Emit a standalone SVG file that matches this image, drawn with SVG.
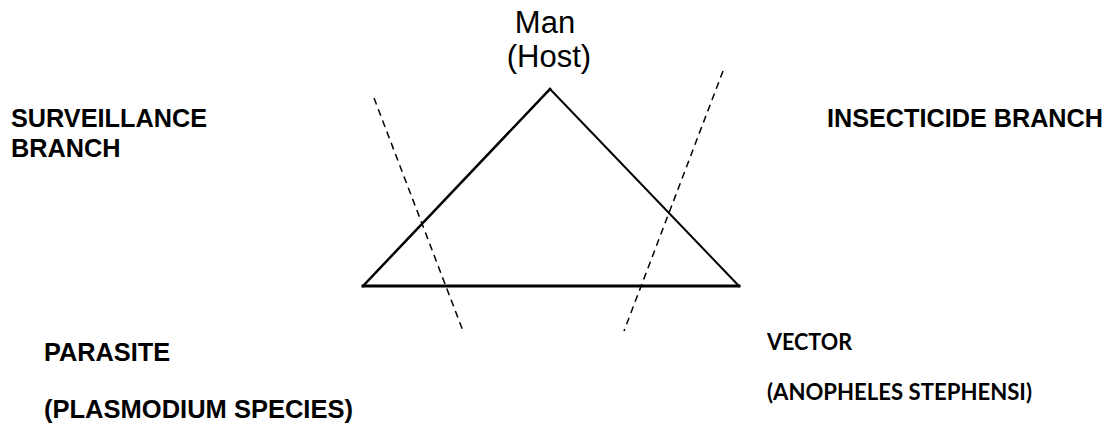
<svg xmlns="http://www.w3.org/2000/svg" width="1119" height="427" viewBox="0 0 1119 427">
<style>
.lbl{font-family:"Liberation Sans",Arial,sans-serif;font-weight:bold;font-size:25.3px;fill:#000}
.cal{font-family:Lato,"Open Sans",sans-serif;font-weight:bold;font-size:22px;fill:#000}
.host{font-family:"Liberation Sans",Arial,sans-serif;font-size:31px;fill:#000;text-anchor:middle}
.tri{stroke:#000;fill:none;stroke-linecap:square}
.dash{stroke:#000;stroke-width:1.5;stroke-dasharray:7 5;fill:none}
</style>
<rect width="1119" height="427" fill="#fff"/>
<g id="triangle">
<line class="tri" x1="363" y1="286" x2="739" y2="286" stroke-width="3"/>
<line class="tri" x1="363" y1="286" x2="550" y2="89" stroke-width="2.5"/>
<line class="tri" x1="550" y1="89" x2="739" y2="286" stroke-width="2"/>
</g>
<g id="connectors">
<line class="dash" x1="374" y1="98" x2="463" y2="331"/>
<line class="dash" x1="723" y1="71" x2="624" y2="331"/>
</g>
<g id="host">
<text class="host" x="545" y="33">Man</text>
<text class="host" x="549" y="67">(Host)</text>
</g>
<g id="surveillance">
<text class="lbl" x="11" y="127" textLength="196" lengthAdjust="spacingAndGlyphs">SURVEILLANCE</text>
<text class="lbl" x="11" y="157">BRANCH</text>
</g>
<g id="insecticide">
<text class="lbl" x="827" y="127" textLength="276" lengthAdjust="spacingAndGlyphs">INSECTICIDE BRANCH</text>
</g>
<g id="parasite">
<text class="lbl" x="44" y="361" textLength="126" lengthAdjust="spacingAndGlyphs">PARASITE</text>
<text class="lbl" x="44" y="418" textLength="309" lengthAdjust="spacingAndGlyphs">(PLASMODIUM SPECIES)</text>
</g>
<g id="vector">
<text class="cal" x="767" y="350" textLength="85" lengthAdjust="spacingAndGlyphs">VECTOR</text>
<text class="cal" x="767" y="400" textLength="265" lengthAdjust="spacingAndGlyphs">(ANOPHELES STEPHENSI)</text>
</g>
</svg>
